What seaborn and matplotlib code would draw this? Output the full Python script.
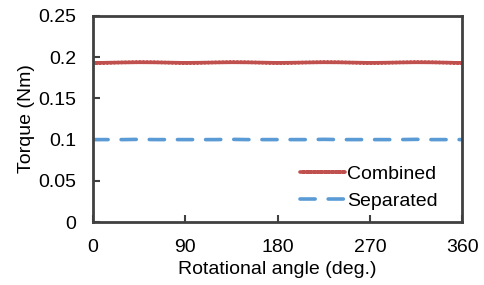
import numpy as np
import pandas as pd
import matplotlib
matplotlib.use("Agg")
import matplotlib.pyplot as plt
import seaborn as sns

# data
angle = [0, 15, 30, 45, 60, 75, 90, 105, 120, 135, 150, 165, 180,
         195, 210, 225, 240, 255, 270, 285, 300, 315, 330, 345, 360]
combined = [0.193, 0.1933, 0.1936, 0.1938, 0.1937, 0.1934, 0.1931, 0.1933, 0.1936, 0.1938,
            0.1937, 0.1934, 0.1931, 0.1933, 0.1936, 0.1938, 0.1937, 0.1934, 0.1931, 0.1933,
            0.1936, 0.1938, 0.1937, 0.1934, 0.193]
separated = [0.100, 0.100, 0.100, 0.1003, 0.100, 0.100, 0.100, 0.100, 0.100, 0.1003,
             0.100, 0.100, 0.100, 0.100, 0.100, 0.1003, 0.100, 0.100, 0.100, 0.100,
             0.100, 0.1003, 0.100, 0.100, 0.100]
series = ["Combined", "Separated"]
x_ticks = [0, 90, 180, 270, 360]
y_ticks = [0, 0.05, 0.1, 0.15, 0.2, 0.25]
y_tick_labels = ["0", "0.05", "0.1", "0.15", "0.2", "0.25"]

df = pd.DataFrame({
    "angle": angle * 2,
    "torque": combined + separated,
    "case": [series[0]] * len(angle) + [series[1]] * len(angle),
})

sns.set_style("white")
plt.rcParams["font.family"] = ["Liberation Sans", "DejaVu Sans"]
plt.rcParams["text.color"] = "black"
plt.rcParams["axes.labelcolor"] = "black"

fig = plt.figure(figsize=(4.84, 2.85), dpi=100)
ax = fig.add_axes([0.192, 0.221, 0.763, 0.723])

sns.lineplot(data=df, x="angle", y="torque", hue="case", style="case",
             palette=["#C0504D", "#5B9BD5"], dashes=[(1, 0), (4.2, 3.6)],
             linewidth=2.6, ax=ax)
for line in ax.lines:
    line.set_dash_capstyle("round")

ax.set_xlim(0, 360)
ax.set_ylim(0, 0.25)
ax.set_xticks(x_ticks)
ax.set_yticks(y_ticks)
ax.set_yticklabels(y_tick_labels)
ax.tick_params(direction="in", length=5, width=1.5, color="#404040",
               labelcolor="black", labelsize=14, top=False, right=False,
               bottom=True, left=True)
ax.tick_params(axis="y", pad=12)
ax.tick_params(axis="x", pad=12)
for sp in ax.spines.values():
    sp.set_color("#404040")
    sp.set_linewidth(2)

ax.set_xlabel("Rotational angle (deg.)", fontsize=14, labelpad=4)
ax.set_ylabel("Torque (Nm)", fontsize=14, labelpad=2)

leg = ax.legend(loc="lower right", frameon=False, fontsize=14, handlelength=2.3,
                handletextpad=0.1, borderaxespad=0.4, labelspacing=0.45,
                bbox_to_anchor=(0.975, -0.015))
for h in leg.get_lines():
    h.set_linewidth(2.6)
    h.set_dash_capstyle("round")

fig.savefig("out.png", dpi=100)
